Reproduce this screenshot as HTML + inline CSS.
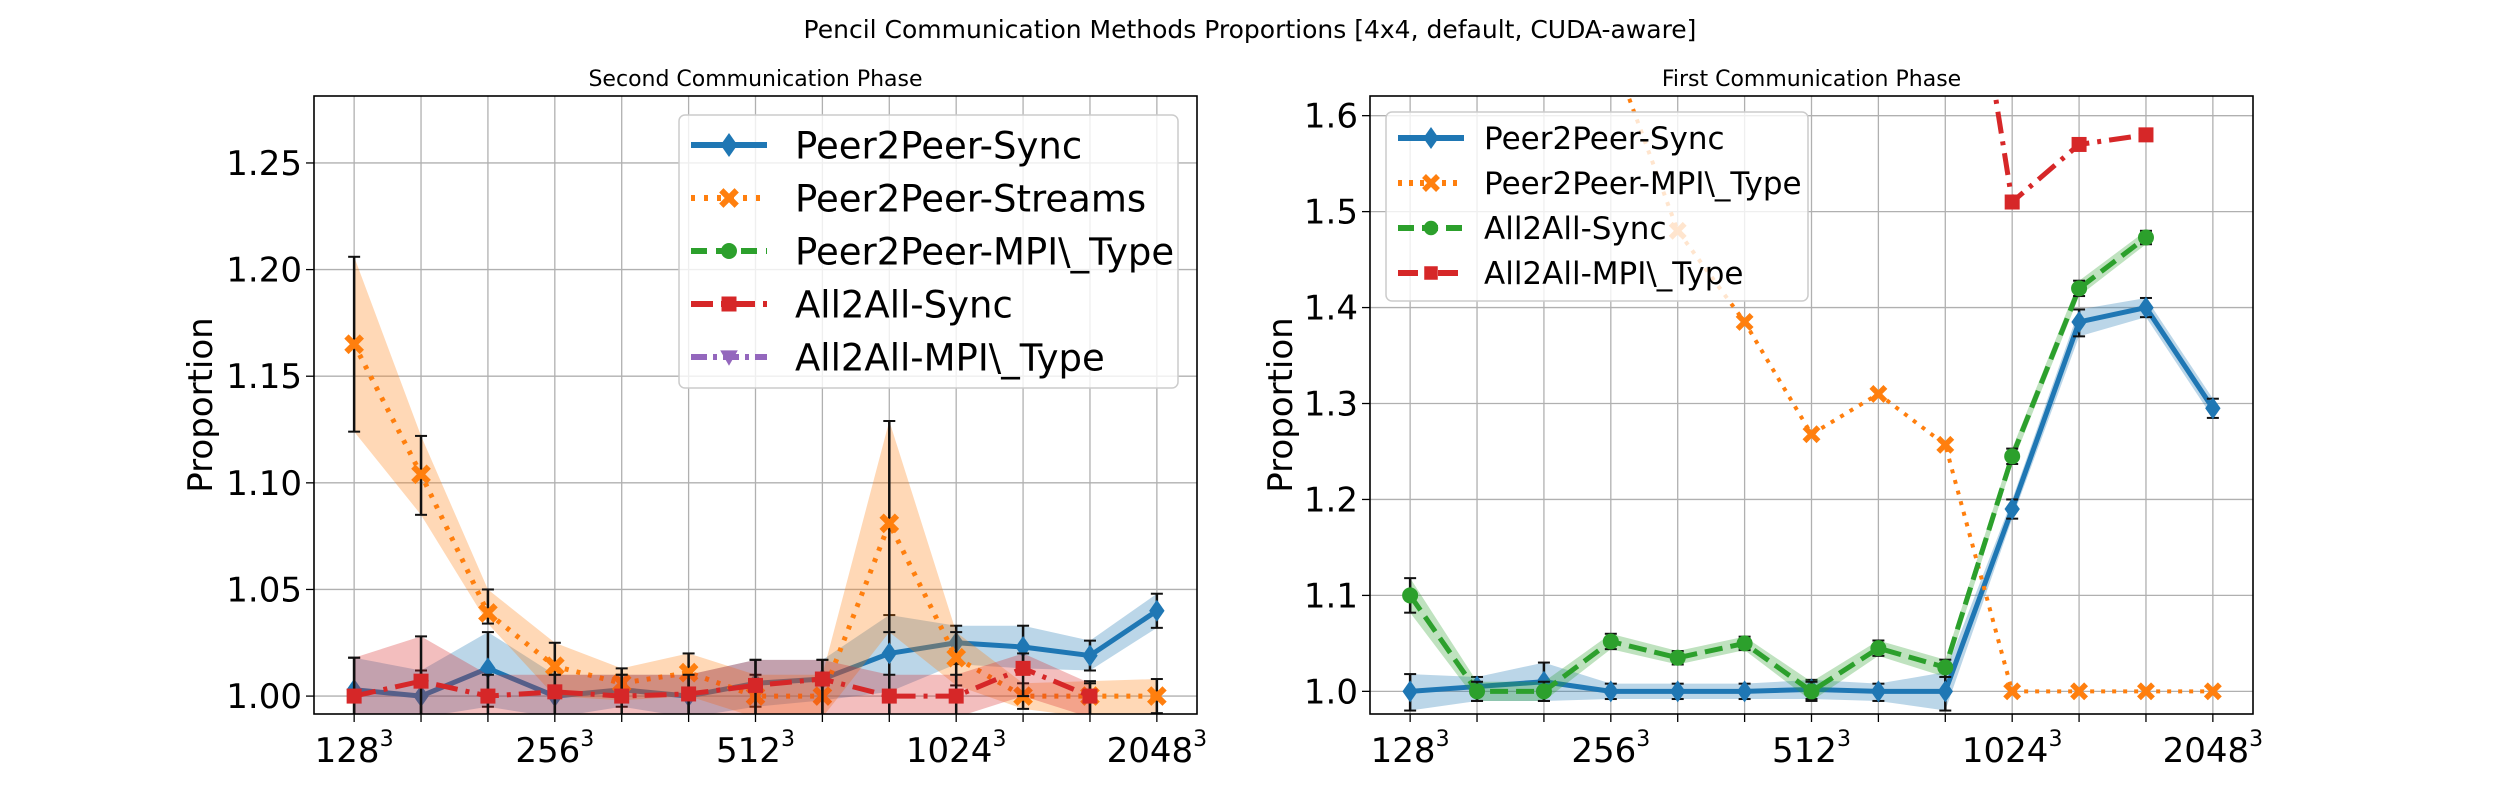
<!DOCTYPE html>
<html><head><meta charset="utf-8">
<style>
html,body{margin:0;padding:0;background:#fff;}
svg text{font-family:"DejaVu Sans","Liberation Sans",sans-serif;}
</style></head>
<body>
<svg id="fig" width="2500" height="800" viewBox="0 0 2500 800" xmlns="http://www.w3.org/2000/svg">
<rect width="2500" height="800" fill="#fff"/>
<text x="1250" y="38" font-size="25" text-anchor="middle">Pencil Communication Methods Proportions [4x4, default, CUDA-aware]</text>
</svg>
<script>
// ---- shared data ----
const xTickIdx = [0,3,6,9,12];
const xTickBase = ['128','256','512','1024','2048'];
// Left panel (Second Communication Phase)
const leftYTicks = [1.00,1.05,1.10,1.15,1.20,1.25];
const L_p2pSync = [1.003,1.000,1.013,1.000,1.003,1.000,1.006,1.008,1.020,1.025,1.023,1.019,1.040];
const L_p2pSyncLo = [0.990,0.990,0.995,0.990,0.995,0.990,0.995,0.998,1.002,1.015,1.013,1.012,1.032];
const L_p2pSyncHi = [1.018,1.012,1.030,1.010,1.010,1.010,1.017,1.017,1.038,1.033,1.033,1.026,1.048];
const L_p2pStreams = [1.165,1.104,1.039,1.014,1.006,1.011,1.000,1.000,1.081,1.018,1.000,1.000,1.000];
const L_p2pStreamsLo = [1.124,1.085,1.034,1.000,0.998,1.000,0.990,0.990,1.030,1.005,0.994,0.990,0.992];
const L_p2pStreamsHi = [1.206,1.122,1.050,1.025,1.013,1.020,1.010,1.010,1.129,1.030,1.006,1.007,1.008];
const L_a2aSync = [1.000,1.007,1.000,1.002,1.000,1.001,1.005,1.008,1.000,1.000,1.013,1.000,null];
const L_a2aSyncLo = [0.985,0.990,0.990,0.990,0.990,0.990,0.990,0.990,0.990,0.990,1.000,0.990,null];
const L_a2aSyncHi = [1.018,1.028,1.010,1.010,1.010,1.010,1.017,1.017,1.010,1.010,1.020,1.006,null];
// Right panel (First Communication Phase)
const rightYTicks = [1.0,1.1,1.2,1.3,1.4,1.5,1.6];
const R_p2pSync = [1.000,1.005,1.010,1.000,1.000,1.000,1.002,1.000,1.000,1.190,1.385,1.400,1.295];
const R_p2pSyncLo = [0.980,0.990,0.990,0.992,0.992,0.992,0.992,0.990,0.980,1.180,1.370,1.390,1.285];
const R_p2pSyncHi = [1.018,1.015,1.030,1.008,1.008,1.008,1.012,1.008,1.020,1.200,1.398,1.410,1.305];
const R_p2pMpi = [2.000,1.900,1.800,1.670,1.480,1.385,1.268,1.310,1.257,1.000,1.000,1.000,1.000];
const R_a2aSync = [1.100,1.000,1.000,1.052,1.035,1.050,1.000,1.045,1.025,1.245,1.420,1.473,null];
const R_a2aSyncLo = [1.082,0.990,0.990,1.044,1.028,1.043,0.990,1.037,1.015,1.237,1.412,1.466,null];
const R_a2aSyncHi = [1.118,1.010,1.010,1.060,1.042,1.057,1.010,1.053,1.033,1.253,1.428,1.480,null];
const R_a2aMpi = [null,null,null,null,null,null,null,null,1.950,1.510,1.570,1.580,null];

const NS='http://www.w3.org/2000/svg';
const svg=document.getElementById('fig');
function mk(tag,attrs,parent){const e=document.createElementNS(NS,tag);for(const k in attrs)e.setAttribute(k,attrs[k]);(parent||svg).appendChild(e);return e;}

function panel(cfg){
  const g=mk('g',{});
  
  
  const {x0,x1,y0,y1,ymin,ymax}=cfg;
  const xs=i=>x0+(i+0.6)/13.2*(x1-x0);
  const ys=v=>y1-(v-ymin)/(ymax-ymin)*(y1-y0);
  const cid='clip'+cfg.name;
  const cp=mk('clipPath',{id:cid},g);mk('rect',{x:x0,y:y0,width:x1-x0,height:y1-y0},cp);
  for(let i=0;i<13;i++){const l=mk('line',{x1:xs(i),x2:xs(i),y1:y0,y2:y1,stroke:'#b0b0b0','stroke-width':1.3},g);
    }
  cfg.yticks.forEach(t=>{const l=mk('line',{x1:x0,x2:x1,y1:ys(t),y2:ys(t),stroke:'#b0b0b0','stroke-width':1.3},g);
    
    mk('line',{x1:x0-8,x2:x0,y1:ys(t),y2:ys(t),stroke:'#000','stroke-width':1.3},g);
    const tx=mk('text',{x:x0-12,y:ys(t)+12,'font-size':34,'text-anchor':'end'},g);
    
    tx.textContent=t.toFixed(cfg.dec);});
  for(let i=0;i<13;i++) mk('line',{x1:xs(i),x2:xs(i),y1:y1,y2:y1+8,stroke:'#000','stroke-width':1.3},g);
  xTickIdx.forEach((ix,k)=>{const tx=mk('text',{x:xs(ix),y:y1+48,'font-size':34,'text-anchor':'middle'},g);
    
    tx.appendChild(document.createTextNode(xTickBase[k]));
    const s=mk('tspan',{'font-size':22,dy:-16},tx);s.textContent='3';});
  const plot=mk('g',{'clip-path':'url(#'+cid+')'},g);
  cfg.series.forEach(s=>{
    const sg=mk('g',{},plot);
    
    if(s.lo){
      let top=[],bot=[];
      s.vals.forEach((v,i)=>{if(v!==null&&s.lo[i]!==null){top.push(xs(i)+','+ys(s.hi[i]));bot.unshift(xs(i)+','+ys(s.lo[i]));}});
      const b=mk('polygon',{points:top.concat(bot).join(' '),fill:s.color,'fill-opacity':0.3,stroke:'none'},sg);
      
    }
    let pts=[];s.vals.forEach((v,i)=>{if(v!==null)pts.push(xs(i)+','+ys(v));});
    const pl=mk('polyline',{points:pts.join(' '),fill:'none',stroke:s.color,'stroke-width':s.w,'stroke-dasharray':s.dash||'none','stroke-linejoin':'round'},sg);
    
    if(s.lo && s.err){s.vals.forEach((v,i)=>{if(v===null)return;const X=xs(i);
      mk('line',{x1:X,x2:X,y1:ys(s.lo[i]),y2:ys(s.hi[i]),stroke:'#111','stroke-width':2.5},sg);
      mk('line',{x1:X-6,x2:X+6,y1:ys(s.lo[i]),y2:ys(s.lo[i]),stroke:'#111','stroke-width':2},sg);
      mk('line',{x1:X-6,x2:X+6,y1:ys(s.hi[i]),y2:ys(s.hi[i]),stroke:'#111','stroke-width':2},sg);});}
    s.vals.forEach((v,i)=>{if(v===null)return;const m=marker(s.mk,xs(i),ys(v),s.ms,s.color,sg);
      });
  });
  mk('rect',{x:x0,y:y0,width:x1-x0,height:y1-y0,fill:'none',stroke:'#000','stroke-width':1.6},g);
  const tt=mk('text',{x:(x0+x1)/2,y:y0-10,'font-size':22,'text-anchor':'middle'},g);
  tt.textContent=cfg.title;
  const yl=mk('text',{x:0,y:0,'font-size':34,'text-anchor':'middle',transform:'translate('+cfg.ylx+','+(y0+y1)/2+') rotate(-90)'},g);
  yl.textContent='Proportion';
  const L=cfg.legend;
  const lg=mk('g',{},g);
  mk('rect',{x:L.x,y:L.y,width:L.w,height:L.h,rx:6,fill:'#fff','fill-opacity':0.8,stroke:'#ccc','stroke-width':1.5},lg);
  L.items.forEach((it,k)=>{const cy=L.y+L.pad+k*L.dy;
    const eg=mk('g',{},lg);
    mk('line',{x1:L.x+12,x2:L.x+12+L.hl,y1:cy,y2:cy,stroke:it.color,'stroke-width':it.w,'stroke-dasharray':it.dash||'none'},eg);
    marker(it.mk,L.x+12+L.hl/2,cy,it.ms,it.color,eg);
    const t=mk('text',{x:L.x+L.tx,y:cy+L.fs*0.36,'font-size':L.fs},eg);t.textContent=it.label;});
}
function marker(type,x,y,s,c,p){
  if(type==='D')return mk('polygon',{points:`${x},${y-s} ${x+s*0.7},${y} ${x},${y+s} ${x-s*0.7},${y}`,fill:c},p);
  if(type==='s')return mk('rect',{x:x-s*0.75,y:y-s*0.75,width:s*1.5,height:s*1.5,fill:c},p);
  if(type==='o')return mk('circle',{cx:x,cy:y,r:s*0.8,fill:c},p);
  if(type==='v')return mk('polygon',{points:`${x-s*0.8},${y-s*0.6} ${x+s*0.8},${y-s*0.6} ${x},${y+s*0.8}`,fill:c},p);
  const d=s*0.7;return mk('path',{d:`M${x-d},${y-d}L${x+d},${y+d}M${x+d},${y-d}L${x-d},${y+d}`,stroke:c,'stroke-width':s*0.55},p);
}
const BL='#1f77b4',OR='#ff7f0e',GR='#2ca02c',RD='#d62728',PU='#9467bd';
panel({name:'left-panel',title:'Second Communication Phase',x0:314,x1:1197,y0:96,y1:714,ymin:0.9916,ymax:1.2814,
  yticks:leftYTicks,dec:2,ylx:212,
  series:[
    {name:'peer2peer-sync',vals:L_p2pSync,lo:L_p2pSyncLo,hi:L_p2pSyncHi,color:BL,w:5,mk:'D',ms:11,err:true},
    {name:'peer2peer-streams',vals:L_p2pStreams,lo:L_p2pStreamsLo,hi:L_p2pStreamsHi,color:OR,w:5,dash:'4 8',mk:'X',ms:11,err:true},
    {name:'all2all-sync',vals:L_a2aSync,lo:L_a2aSyncLo,hi:L_a2aSyncHi,color:RD,w:5,dash:'22 8 4 8',mk:'s',ms:10,err:true}],
  legend:{x:679,y:115,w:499,h:273,pad:30,dy:53,hl:76,tx:116,fs:37,items:[
    {label:'Peer2Peer-Sync',color:BL,w:6,mk:'D',ms:12},
    {label:'Peer2Peer-Streams',color:OR,w:6,dash:'4 9',mk:'X',ms:11},
    {label:'Peer2Peer-MPI\\_Type',color:GR,w:6,dash:'16 9',mk:'o',ms:10},
    {label:'All2All-Sync',color:RD,w:6,dash:'22 8 4 8',mk:'s',ms:10},
    {label:'All2All-MPI\\_Type',color:PU,w:6,dash:'16 6 4 6',mk:'v',ms:11}]}
});
panel({name:'right-panel',title:'First Communication Phase',x0:1370,x1:2253,y0:96,y1:714,ymin:0.9764,ymax:1.6205,
  yticks:rightYTicks,dec:1,ylx:1292,
  series:[
    {name:'peer2peer-sync',vals:R_p2pSync,lo:R_p2pSyncLo,hi:R_p2pSyncHi,color:BL,w:5,mk:'D',ms:11,err:true},
    {name:'peer2peer-mpi-type',vals:R_p2pMpi,color:OR,w:4,dash:'4 7',mk:'X',ms:10},
    {name:'all2all-sync',vals:R_a2aSync,lo:R_a2aSyncLo,hi:R_a2aSyncHi,color:GR,w:5,dash:'18 8',mk:'o',ms:10,err:true},
    {name:'all2all-mpi-type',vals:R_a2aMpi,color:RD,w:5,dash:'22 8 4 8',mk:'s',ms:10}],
  legend:{x:1386,y:112,w:422,h:189,pad:26,dy:45,hl:66,tx:98,fs:31,items:[
    {label:'Peer2Peer-Sync',color:BL,w:6,mk:'D',ms:11},
    {label:'Peer2Peer-MPI\\_Type',color:OR,w:6,dash:'4 7',mk:'X',ms:10},
    {label:'All2All-Sync',color:GR,w:6,dash:'16 8',mk:'o',ms:9},
    {label:'All2All-MPI\\_Type',color:RD,w:6,dash:'20 8 4 8',mk:'s',ms:9}]}
});
</script>
</body></html>
